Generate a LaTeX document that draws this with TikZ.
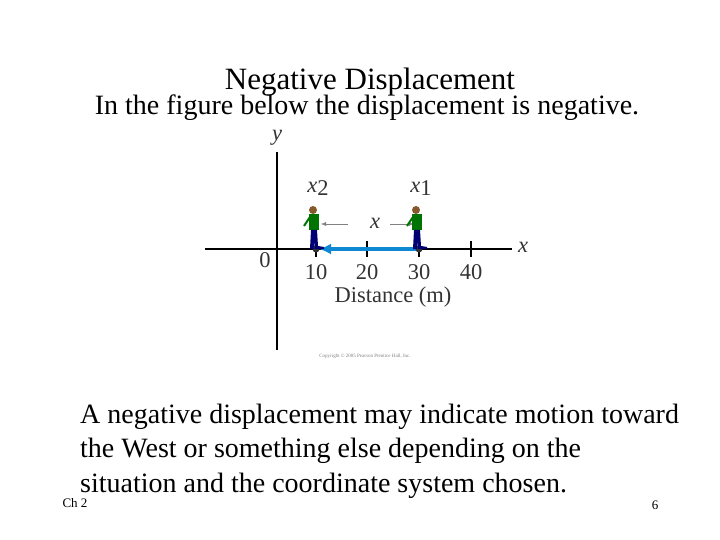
\documentclass[tikz,border=0pt]{standalone}
\usepackage{fontspec}
\setmainfont{Liberation Serif}
\usetikzlibrary{arrows.meta}
\begin{document}
\begin{tikzpicture}[x=1pt,y=-1pt,
  big/.style={font=\fontsize{28}{32}\selectfont,inner sep=0},
  lab/.style={font=\fontsize{22.5}{26}\selectfont\color{black!80},inner sep=0},
  axis/.style={line width=1.6pt},
  tick/.style={line width=1.2pt}]
\useasboundingbox (0,0) rectangle (720,540);
\node[font=\fontsize{31}{34}\selectfont,inner sep=0] (title) at (370,82) {Negative Displacement};
\node[big] (sub) at (367,108) {In the figure below the displacement is negative.};
% axes
\coordinate (xl) at (205,249); \coordinate (xr) at (512,249);
\coordinate (yt) at (277,152); \coordinate (yb) at (277,350);
\draw[axis] (xl) -- (xr);
\draw[axis] (yt) -- (yb);
\foreach \v/\p in {10/316,20/367,30/419,40/471}{
  \draw[tick] (\p,241) -- (\p,257);
  \node[lab] (t\v) at (\p,272) {\v};
}
\node[lab] (zero) at (265,260) {0};
\node[lab] (xlab) at (523,247) {\textit{x}};
\node[lab] (ylab) at (277,138) {\textit{y}};
\node[lab] (dist) at (393,297) {Distance (m)};
\node[lab] (x2) at (318,188) {\textit{x}\raisebox{-3pt}{2}};
\node[lab] (x1) at (421,188) {\textit{x}\raisebox{-3pt}{1}};
\node[lab] (xm) at (375,223) {\textit{x}};
\draw[gray,-{Latex[length=5pt]}] (348,224) -- (321,224);
\draw[gray,-{Latex[length=5pt]}] (390,224) -- (414,224);
% displacement arrow
\coordinate (p30) at (419,249); \coordinate (p10) at (319,249);
\draw[line width=3.5pt,color=cyan!70!blue,-{Latex[length=12pt,width=11pt]}] (p30) -- (p10);
\fill[black!80] (316,249) circle (3.5);
\fill[black!80] (419,249) circle (3.5);
% walkers
\foreach \c in {316,419}{
  \fill[brown!70!black] (\c-3,210) circle (4);
  \fill[green!45!black] (\c-7,214) rectangle (\c+3,230);
  \draw[green!45!black,line width=2pt] (\c-6,217) -- (\c-12,226);
  \fill[blue!45!black] (\c-5,230) -- (\c+1,230) -- (\c+2,246) -- (\c+8,247) -- (\c+8,249) -- (\c-1,249) -- (\c-2,238) -- (\c-2,249) -- (\c-6,249) -- cycle;
}
\node[font=\fontsize{5}{6}\selectfont,text=gray] (copy) at (365,356) {Copyright \copyright\ 2005 Pearson Prentice Hall, Inc.};
\node[big,anchor=west] (l1) at (80,417) {A negative displacement may indicate motion toward};
\node[big,anchor=west] (l2) at (80,451) {the West or something else depending on the};
\node[big,anchor=west] (l3) at (80,486) {situation and the coordinate system chosen.};
\node[font=\fontsize{13}{16}\selectfont] (ch) at (75,503) {Ch 2};
\node[font=\fontsize{13}{16}\selectfont] (pg) at (655,505) {6};
\end{tikzpicture}
\end{document}
